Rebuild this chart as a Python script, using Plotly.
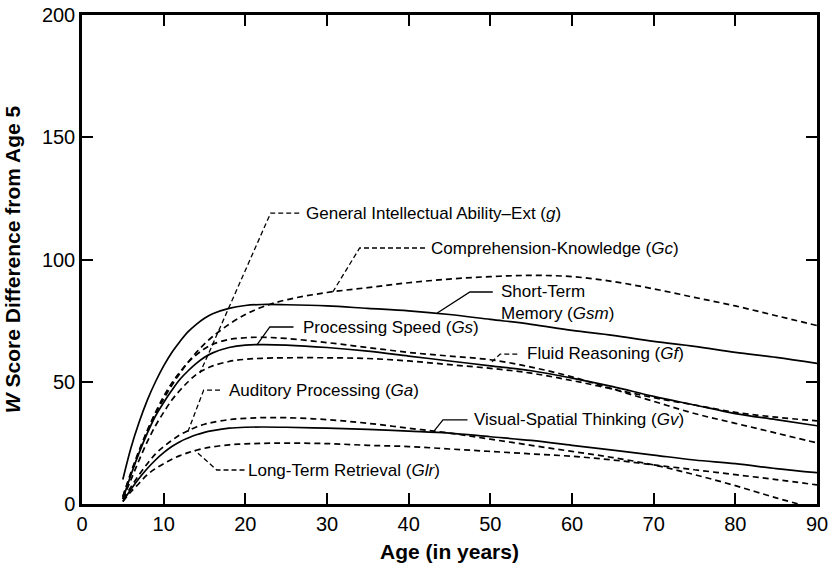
import plotly.graph_objects as go

# ---------------- data ----------------
ages = [5, 6, 7, 8, 9, 10, 11, 12, 13, 14, 15, 16, 18, 20, 22, 25,
        30, 35, 40, 45, 50, 55, 60, 65, 70, 75, 80, 85, 90]

g_ext = [2, 10, 18, 25.5, 32, 37.5, 42.5, 46.5, 50, 53, 55, 56.5, 58.3, 59.2, 59.6, 59.8,
         59.8, 59.5, 58.5, 57, 55.5, 53.5, 50.5, 47, 43.5, 40.5, 37.5, 35.5, 34]
gc = [3, 13, 22, 30, 37, 43, 48.5, 53.5, 58, 62, 65.5, 68.5, 73.5, 77.5, 80.5, 83.5,
      86.5, 88.5, 90.5, 92, 93, 93.5, 93, 91, 88, 84.5, 81, 77, 73]
gsm = [10, 23, 33.5, 42.5, 50, 56.5, 62, 66.5, 70.5, 73.5, 76, 77.8, 80, 81.2, 81.6, 81.5,
       81, 80, 79, 77.5, 75.5, 73.5, 71, 69, 66.5, 64.5, 62, 60, 57.5]
gs = [2, 12, 21, 29, 36, 41.5, 46.5, 51, 54.5, 57.5, 60, 61.8, 64, 65, 65.2, 65,
      64, 62.5, 60.5, 58.5, 56.5, 54.5, 51.5, 48, 44, 40.5, 37, 34.5, 32]
gf = [3, 12.5, 21.5, 30, 37.5, 44, 49.5, 54, 58, 61, 63.5, 65.3, 67.3, 68, 68.2, 67.7,
      66, 64, 62, 60.5, 59, 56, 52, 47, 42, 37, 33, 29, 25]
ga = [2, 7, 12, 16.5, 20.5, 23.5, 26, 28.3, 30, 31.5, 32.6, 33.4, 34.5, 35, 35.3, 35.3,
      34.5, 33, 31, 29, 26.5, 24, 21.5, 19, 16, 12, 7.5, 2.5, -2]
gv = [1, 6, 10.5, 14.5, 18, 21, 23.5, 25.5, 27, 28.3, 29.3, 30, 31, 31.4, 31.5, 31.4,
      31, 30.5, 29.8, 29, 27.5, 26, 24, 22, 20, 18, 16.5, 14.5, 12.8]
glr = [1, 5, 8.5, 12, 14.5, 16.5, 18.3, 19.8, 21, 22, 22.8, 23.4, 24.2, 24.6, 24.8, 24.9,
       24.7, 24, 23.5, 22.5, 21.5, 20.5, 19.5, 18, 16, 14, 12, 10, 7.8]

series_names = ["General Intellectual Ability–Ext (g)", "Comprehension-Knowledge (Gc)",
                "Short-Term Memory (Gsm)", "Processing Speed (Gs)", "Fluid Reasoning (Gf)",
                "Auditory Processing (Ga)", "Visual-Spatial Thinking (Gv)", "Long-Term Retrieval (Glr)"]
series_values = [g_ext, gc, gsm, gs, gf, ga, gv, glr]
series_dashed = [True, True, False, False, True, True, False, True]

x_ticks = [0, 10, 20, 30, 40, 50, 60, 70, 80, 90]
y_ticks = [0, 50, 100, 150, 200]

# label texts (rich text) and layout positions (data coords)
label_texts = ["General Intellectual Ability–Ext (<i>g</i>)",
               "Comprehension-Knowledge (<i>Gc</i>)",
               "Short-Term<br>Memory (<i>Gsm</i>)",
               "Processing Speed (<i>Gs</i>)",
               "Fluid Reasoning (<i>Gf</i>)",
               "Auditory Processing (<i>Ga</i>)",
               "Visual-Spatial Thinking (<i>Gv</i>)",
               "Long-Term Retrieval (<i>Glr</i>)"]
label_pos = [(27.2, 119.0), (42.5, 104.7), (51.0, 82.5), (26.8, 72.3),
             (54.3, 61.5), (17.8, 46.6), (47.7, 34.4), (20.1, 13.9)]
# connector polylines: (text-end point, elbow, curve point)
connectors = [
    [(26.6, 119.0), (23.1, 119.0), (14.45, 53.6)],
    [(42.0, 104.7), (34.0, 104.7), (30.7, 86.7)],
    [(50.3, 86.7), (47.5, 86.7), (43.5, 78.1)],
    [(25.9, 72.4), (23.0, 72.4), (21.4, 65.0)],
    [(53.3, 61.3), (51.2, 61.3), (50.2, 58.2)],
    [(16.9, 46.6), (14.9, 46.6), (12.9, 29.0)],
    [(47.2, 34.4), (44.2, 34.4), (43.0, 29.4)],
    [(19.9, 13.9), (16.5, 13.9), (13.8, 22.0)],
]

FONT = "Liberation Sans, Arial, Helvetica, sans-serif"

fig = go.Figure()
for name, vals, dashed in zip(series_names, series_values, series_dashed):
    fig.add_trace(go.Scatter(
        x=ages, y=vals, mode="lines", name=name,
        line=dict(color="black", width=1.7, shape="spline", smoothing=1.0,
                  dash="6px,4px" if dashed else "solid"),
        showlegend=False, hoverinfo="skip"))

shapes = []
for pts, dashed in zip(connectors, series_dashed):
    path = "M {},{} L {},{} L {},{}".format(pts[0][0], pts[0][1], pts[1][0], pts[1][1], pts[2][0], pts[2][1])
    shapes.append(dict(type="path", path=path, xref="x", yref="y",
                       line=dict(color="black", width=1.3, dash="5px,3px" if dashed else "solid")))

annotations = []
for txt, (lx, ly) in zip(label_texts, label_pos):
    annotations.append(dict(x=lx, y=ly, xref="x", yref="y", text=txt, showarrow=False,
                            xanchor="left", yanchor="middle", align="left",
                            font=dict(family=FONT, size=17, color="black")))

axis_common = dict(showline=True, linecolor="black", linewidth=2.5, mirror="ticks",
                   ticks="inside", ticklen=11, tickwidth=1.5, tickcolor="black",
                   showgrid=False, zeroline=False, ticklabeloverflow="allow", automargin=False,
                   tickfont=dict(family=FONT, size=20, color="black"))

fig.update_layout(
    width=834, height=569,
    margin=dict(l=82, r=17, t=15, b=65, autoexpand=False),
    paper_bgcolor="white", plot_bgcolor="white",
    shapes=shapes, annotations=annotations,
    xaxis=dict(range=[0, 90], tickvals=x_ticks, ticktext=[str(v) for v in x_ticks],
               title=dict(text="<b>Age (in years)</b>", font=dict(family=FONT, size=21, color="black"), standoff=11),
               **axis_common),
    yaxis=dict(range=[0, 200], tickvals=y_ticks, ticktext=[str(v) for v in y_ticks],
               title=dict(text="<b><i>W</i> Score Difference from Age 5</b>", font=dict(family=FONT, size=21, color="black"), standoff=16),
               **axis_common),
)

fig.write_html("out.html", config={"displayModeBar": False},
               post_script="document.body.style.margin='0px';document.body.style.overflow='hidden';")
